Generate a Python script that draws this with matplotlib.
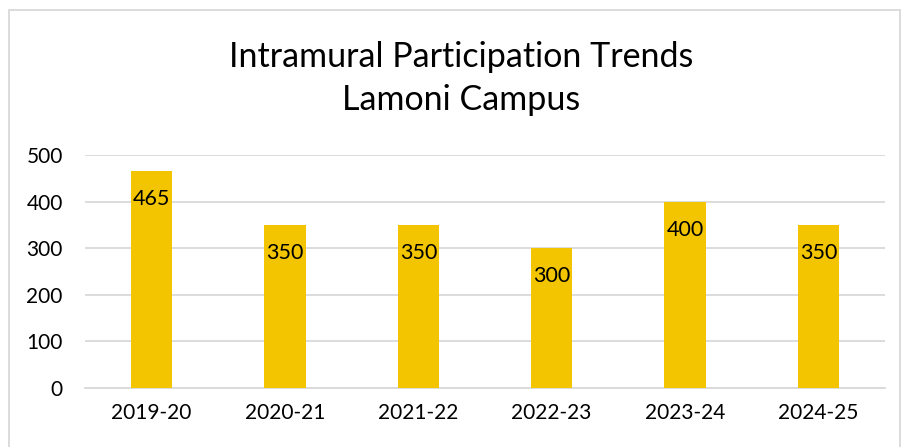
import matplotlib.pyplot as plt
import numpy as np

plt.rcParams['font.family'] = ['Lato', 'DejaVu Sans']

seasons = ['2019-20', '2020-21', '2021-22', '2022-23', '2023-24', '2024-25']
participants = [465, 350, 350, 300, 400, 350]

bar_color = '#F2C500'
grid_color = '#D9D9D9'

fig = plt.figure(figsize=(9.01, 4.47), dpi=100)
ax = fig.add_axes([85 / 901, 1 - 388 / 447, 800 / 901, 233 / 447])

x = np.arange(len(seasons))
bars = ax.bar(x, participants, width=0.31, color=bar_color, zorder=3)

# value labels sit just inside the top of each bar
for rect, val in zip(bars, participants):
    ax.annotate(str(val), (rect.get_x() + rect.get_width() / 2, val),
                xytext=(0, -28), textcoords='offset pixels',
                ha='center', va='center', fontsize=15.5, color='#000000', zorder=4)

ax.set_xlim(-0.5, len(seasons) - 0.5)
ax.set_ylim(0, 500)
ax.set_yticks(range(0, 501, 100))
ax.set_xticks(x)
ax.set_xticklabels(seasons)
ax.yaxis.grid(True, color=grid_color, linewidth=1.3, zorder=0)
ax.tick_params(axis='both', length=0, labelsize=15, colors='#000000')
ax.tick_params(axis='x', pad=11)
ax.tick_params(axis='y', pad=16)
for side in ['top', 'right', 'left']:
    ax.spines[side].set_visible(False)
ax.spines['bottom'].set_color(grid_color)
ax.spines['bottom'].set_linewidth(1.3)

fig.text(461 / 901, 1 - 57 / 447, 'Intramural Participation Trends',
         ha='center', va='center', fontsize=24.5)
fig.text(461 / 901, 1 - 100 / 447, 'Lamoni Campus',
         ha='center', va='center', fontsize=24.5)

border = plt.Rectangle((8.5 / 901, -0.05), (900 - 8.5) / 901, 1.05 - 10.5 / 447,
                       transform=fig.transFigure, fill=False,
                       edgecolor=grid_color, linewidth=1.3, clip_on=False)
fig.patches.append(border)

fig.savefig('out.png', dpi=100)
